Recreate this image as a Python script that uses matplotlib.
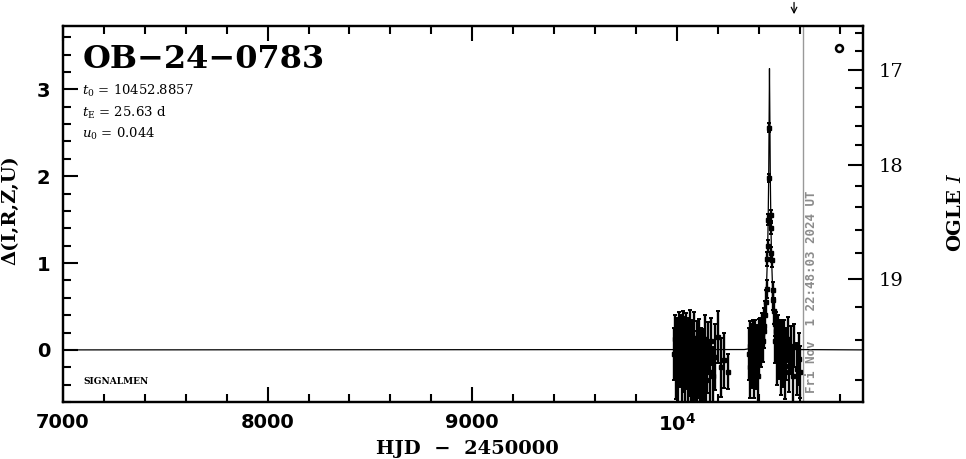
import numpy as np
import matplotlib
matplotlib.use("Agg")
import matplotlib.pyplot as plt
from matplotlib.ticker import FixedLocator, FixedFormatter, MultipleLocator

# --- event parameters (as printed on the plot) ---
EVENT = "OB\u221224\u22120783"
T0 = 10452.8857
TE = 25.63
U0 = 0.044
NOW_T = 10616.45          # Fri Nov 1 22:48:03 2024 UT in HJD-2450000
NOW_LABEL = "Fri Nov  1 22:48:03 2024 UT"
ARROW_T = 10573.0

# source / blend magnitudes used for the OGLE I axis
I_SOURCE = 20.29
I_BLEND = 20.13

# --- 2023 season ---
t1 = [9988, 9992, 9997, 10001, 10006, 10010, 10015, 10019, 10024, 10028,
      10033, 10037, 10041, 10046, 10050, 10054, 10058, 10062, 10065, 10069,
      10072, 10076, 10079, 10083, 10086, 10090, 10093, 10097, 10100, 10104,
      10107, 10111, 10115, 10119, 10123, 10128, 10132, 10137, 10142, 10147,
      10153, 10160, 10168, 10177, 10188, 10200, 10215, 10232, 10252]
d1 = [-0.05, 0.12, -0.22, 0.05, -0.30, 0.18, -0.10, 0.02, -0.35, 0.20,
      -0.15, 0.08, -0.25, 0.15, -0.05, -0.32, 0.10, -0.18, 0.22, -0.28,
      -0.08, 0.05, -0.38, -0.12, 0.14, -0.22, -0.30, 0.00, -0.40, -0.15,
      0.08, -0.33, -0.20, -0.05, -0.42, -0.10, -0.28, 0.12, -0.35, -0.18,
      0.02, -0.25, 0.10, -0.30, -0.08, 0.15, -0.20, -0.12, -0.25]
e1 = [0.30, 0.28, 0.35, 0.32, 0.30, 0.26, 0.33, 0.38, 0.30, 0.25,
      0.34, 0.30, 0.36, 0.28, 0.40, 0.30, 0.27, 0.35, 0.24, 0.32,
      0.38, 0.30, 0.28, 0.34, 0.30, 0.36, 0.25, 0.33, 0.30, 0.38,
      0.28, 0.32, 0.35, 0.30, 0.26, 0.34, 0.30, 0.28, 0.36, 0.32,
      0.30, 0.35, 0.27, 0.33, 0.38, 0.30, 0.34, 0.32, 0.20]

# --- 2024 season (with the peak) ---
t2 = [10352, 10356, 10360, 10364, 10368, 10372, 10376, 10380, 10384, 10388,
      10392, 10396, 10400, 10404, 10408, 10412, 10416, 10420, 10424, 10428,
      10432, 10436, 10439, 10442, 10444, 10446, 10449, 10451, 10459, 10460,
      10462, 10463, 10468, 10471, 10474, 10478, 10482, 10486, 10490, 10494,
      10498, 10503, 10508, 10513, 10518, 10524, 10530, 10536, 10543, 10550,
      10558, 10566, 10575, 10585, 10595, 10601]
d2 = [-0.05, 0.05, -0.20, 0.00, -0.12, 0.08, -0.25, -0.05, 0.10, -0.15,
      0.02, -0.30, 0.12, -0.02, 0.15, 0.05, 0.20, 0.10, 0.28, 0.22,
      0.40, 0.55, 0.70, 1.05, 1.20, 1.50, 1.98, 2.56, 1.55, 1.40,
      1.12, 1.03, 0.69, 0.58, 0.45, 0.30, 0.10, 0.22, -0.10, 0.15,
      -0.05, 0.08, -0.20, 0.05, -0.15, 0.10, -0.25, -0.05, 0.12, -0.18,
      0.00, -0.30, 0.05, -0.22, -0.10, -0.25]
e2 = [0.30, 0.28, 0.35, 0.30, 0.32, 0.26, 0.30, 0.28, 0.25, 0.30,
      0.27, 0.32, 0.24, 0.28, 0.22, 0.25, 0.22, 0.24, 0.20, 0.20,
      0.16, 0.14, 0.10, 0.08, 0.07, 0.06, 0.05, 0.05, 0.06, 0.06,
      0.07, 0.07, 0.09, 0.12, 0.15, 0.14, 0.25, 0.22, 0.30, 0.25,
      0.28, 0.26, 0.32, 0.30, 0.28, 0.25, 0.32, 0.30, 0.26, 0.30,
      0.28, 0.30, 0.25, 0.30, 0.30, 0.30]

# --- model curve ---
model_t = [7000, 10330, 10383, 10408, 10423, 10433, 10438, 10443, 10446, 10449,
           10451, 10452.9, 10455, 10457, 10460, 10463, 10468, 10473, 10483,
           10498, 10523, 10576, 10910]
model_d = [0.0, 0.004, 0.025, 0.09, 0.235, 0.48, 0.71, 1.07, 1.42, 1.98,
           2.62, 3.24, 2.62, 1.98, 1.42, 1.07, 0.71, 0.48, 0.235,
           0.09, 0.025, 0.004, 0.0]

# axis ticks
x_major = [7000, 8000, 9000, 10000]
x_labels = ["7000", "8000", "9000", r"$\mathbf{10^{4}}$"]
mag_major = [17, 18, 19]
mag_minor = [16.6, 16.8, 17.2, 17.4, 17.6, 17.8, 18.2, 18.4, 18.6, 18.8,
             19.2, 19.4, 19.6]


def delta_of_mag(m):
    m = np.asarray(m, dtype=float)
    fs = 10 ** (-0.4 * I_SOURCE)
    fb = 10 ** (-0.4 * I_BLEND)
    return 2.5 * np.log10((10 ** (-0.4 * m) - fb) / fs)


plt.rcParams['mathtext.fontset'] = 'custom'
plt.rcParams['mathtext.rm'] = 'DejaVu Serif'
plt.rcParams['mathtext.it'] = 'DejaVu Serif:italic'
plt.rcParams['mathtext.bf'] = 'DejaVu Sans:bold'

fig = plt.figure(figsize=(9.66, 4.59), dpi=100)
ax = fig.add_axes([63 / 966, 57 / 459, 800 / 966, 376 / 459])

t_all = np.array(t1 + t2)
d_all = np.array(d1 + d2)
e_all = np.array(e1 + e2)

ax.plot(model_t, model_d, color='k', lw=0.9, zorder=2)
ax.errorbar(t_all, d_all, yerr=e_all, fmt='s', ms=3.0, color='k',
            ecolor='k', elinewidth=1.7, capsize=1.5, capthick=1.4, zorder=3)
ax.axvline(NOW_T, color='#999999', lw=1.0, zorder=1)

ax.set_xlim(7000, 10910)
ax.set_ylim(-0.6, 3.73)

ax.xaxis.set_major_locator(FixedLocator(x_major))
ax.xaxis.set_major_formatter(FixedFormatter(x_labels))
ax.xaxis.set_minor_locator(MultipleLocator(200))
ax.yaxis.set_major_locator(FixedLocator([0, 1, 2, 3]))
ax.yaxis.set_minor_locator(MultipleLocator(0.2))

ax.tick_params(which='both', direction='in', top=True, right=False, width=1.5)
ax.tick_params(which='major', length=10.5)
ax.tick_params(which='minor', length=5.5)
ax.tick_params(axis='x', which='major', pad=8)
ax.tick_params(axis='y', which='major', pad=9)
for lab in ax.get_xticklabels() + ax.get_yticklabels():
    lab.set_fontsize(14)
    lab.set_fontweight('bold')
    lab.set_family('DejaVu Sans')
for sp in ax.spines.values():
    sp.set_linewidth(1.6)

# right-hand OGLE I axis
ax2 = ax.twinx()
ax2.set_ylim(ax.get_ylim())
ax2.yaxis.set_major_locator(FixedLocator(delta_of_mag(mag_major)))
ax2.yaxis.set_major_formatter(FixedFormatter([str(m) for m in mag_major]))
ax2.yaxis.set_minor_locator(FixedLocator(delta_of_mag(mag_minor)))
ax2.tick_params(which='both', direction='in', width=1.5)
ax2.tick_params(which='major', length=10.5, pad=11)
ax2.tick_params(which='minor', length=5.5)
for lab in ax2.get_yticklabels():
    lab.set_fontsize(14)
    lab.set_family('DejaVu Serif')
for sp in ax2.spines.values():
    sp.set_linewidth(1.6)

# labels
ax.set_xlabel("HJD  \u2212  2450000", fontsize=14, family='DejaVu Serif',
              fontweight='bold')
ax.xaxis.set_label_coords(0.505, -0.10)
ax.set_ylabel("\u0394(I,R,Z,U)", fontsize=14, family='DejaVu Serif',
              fontweight='bold')
ax.yaxis.set_label_coords(-0.054, 0.511)
fig.text(956 / 966, 1 - 212 / 459, r"OGLE $\mathit{I}$", rotation=90,
         ha='center', va='center', fontsize=14, family='DejaVu Serif',
         fontweight='bold')

# annotations
ax.text(0.025, 0.888, EVENT, transform=ax.transAxes, fontsize=23,
        family='DejaVu Serif', fontweight='bold', va='baseline')
params = [r"$t_{0}$ = %.4f" % T0, r"$t_{\rm E}$ = %.2f d" % TE,
          r"$u_{0}$ = %.3f" % U0]
for i, s in enumerate(params):
    ax.text(0.024, 0.8165 - 0.0575 * i, s, transform=ax.transAxes,
            fontsize=9.5, family='DejaVu Serif', va='baseline')
ax.text(0.025, 0.048, "SIGNALMEN", transform=ax.transAxes, fontsize=6.5,
        family='DejaVu Serif', fontweight='bold', va='baseline')
ax.text(NOW_T + 40, -0.5, NOW_LABEL, rotation=90, color='#8c8c8c',
        ha='center', va='bottom', fontsize=9, family='DejaVu Sans Mono',
        fontweight='bold')
ax.plot([0.97], [0.9415], 'o', transform=ax.transAxes, ms=5, mfc='white',
        mec='k', mew=1.8, clip_on=False)
ax.annotate('', xy=(ARROW_T, 1.024), xycoords=('data', 'axes fraction'),
            xytext=(ARROW_T, 1.07), textcoords=('data', 'axes fraction'),
            arrowprops=dict(arrowstyle='->', lw=0.9, color='k'),
            annotation_clip=False)

fig.savefig("out.png", dpi=100)
